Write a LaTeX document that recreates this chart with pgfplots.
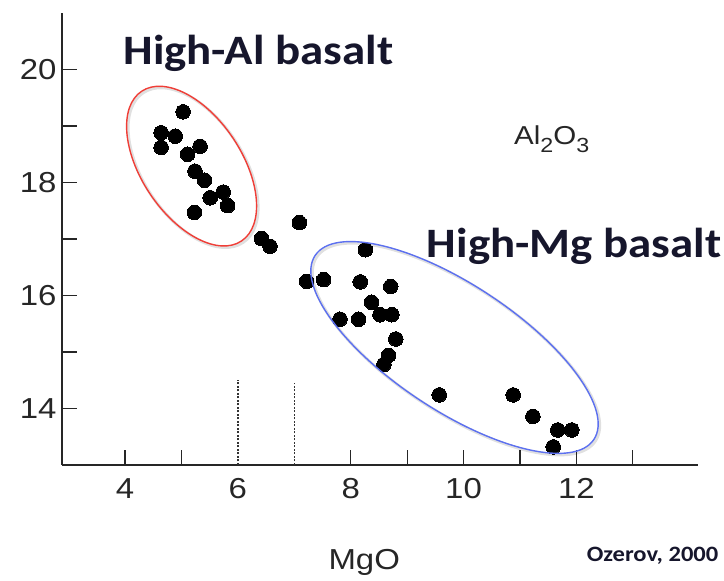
\documentclass[border=0pt]{standalone}
\usepackage{fontspec}
\setmainfont[FakeStretch=1.14]{Liberation Sans}
\newfontfamily\calibri[FakeStretch=1.12]{Carlito}
\usepackage{pgfplots}
\pgfplotsset{compat=1.18}
\definecolor{navy}{RGB}{22,22,44}
\definecolor{ellred}{RGB}{240,62,55}
\definecolor{ellblue}{RGB}{92,112,240}
\begin{document}
\begin{tikzpicture}[x=1bp,y=1bp]
\useasboundingbox (0,0) rectangle (724,581);
\begin{axis}[
  at={(62bp,116bp)}, anchor=south west,
  scale only axis, width=636.2bp, height=452bp,
  xmin=2.883, xmax=14.16, ymin=13, ymax=21,
  axis lines=left, axis line style={-, line width=1.6bp, black!85},
  tick align=inside,
  major tick length=15bp, minor tick length=15bp,
  tick style={line width=1.2bp, black!85},
  xtick={4,5,8,9,10,11,12,13}, xticklabels={4,,8,,10,,12,},
  extra x ticks={6}, extra x tick labels={6},
  extra x tick style={major tick length=0pt},
  ytick={14,15,16,17,18,19,20}, yticklabels={14,,16,,18,,20},
  ticklabel style={font=\fontsize{29}{29}\selectfont, text=black!85},
  xticklabel style={yshift=-10bp},
  yticklabel style={xshift=-2bp},
  clip=false,
]
\addplot[black!80, line width=1.4bp, dash pattern=on 2bp off 1.5bp] coordinates {(6,13) (6,14.51)};
\addplot[black!80, line width=1.4bp, dash pattern=on 2bp off 1.5bp] coordinates {(7,13) (7,14.45)};
\addplot[only marks, mark=*, mark size=7.3bp, mark options={fill=black, draw=black, line width=0pt}] table {
x y
5.03 19.25
4.64 18.88
4.89 18.82
4.64 18.62
5.33 18.64
5.11 18.50
5.24 18.20
5.41 18.04
5.74 17.83
5.51 17.73
5.82 17.59
5.23 17.47
6.42 17.01
6.57 16.87
7.09 17.29
8.26 16.81
7.22 16.25
7.52 16.28
8.17 16.24
8.71 16.16
8.37 15.88
8.52 15.66
8.73 15.66
7.81 15.58
8.14 15.58
8.80 15.23
8.67 14.94
8.59 14.78
9.57 14.24
10.88 14.24
11.23 13.86
11.67 13.62
11.92 13.62
11.59 13.32
};
\coordinate (redc) at (axis cs:5.18,18.29);
\coordinate (bluec) at (axis cs:9.84,15.08);
\end{axis}
\draw[black, opacity=0.12, line width=3bp] ([shift={(1.5,-1.5)}]redc) ellipse [x radius=90, y radius=50, rotate=-56.3];
\draw[black, opacity=0.12, line width=3bp] ([shift={(1.5,-1.5)}]bluec) ellipse [x radius=167, y radius=63, rotate=-33.4];
\draw[ellred, line width=1.4bp] (redc) ellipse [x radius=90, y radius=50, rotate=-56.3];
\draw[ellblue, line width=1.4bp] (bluec) ellipse [x radius=167, y radius=63, rotate=-33.4];
\node[anchor=base west, inner sep=0, font=\calibri\bfseries\fontsize{42}{42}\selectfont, text=navy] at (123.3,516.7) {High-Al basalt};
\node[anchor=base west, inner sep=0, font=\calibri\bfseries\fontsize{42}{42}\selectfont, text=navy] at (426.7,323.7) {High-Mg basalt};
\node[anchor=base west, inner sep=0, font=\fontsize{26}{26}\selectfont, text=black!85] at (514,436) {Al\raisebox{-0.28em}{\fontsize{20.5}{20.5}\selectfont 2}O\raisebox{-0.28em}{\fontsize{20.5}{20.5}\selectfont 3}};
\node[anchor=base west, inner sep=0, font=\fontsize{29}{29}\selectfont, text=black!85] at (328.3,11) {MgO};
\node[anchor=base west, inner sep=0, font=\calibri\bfseries\fontsize{22}{22}\selectfont, text=navy] at (586.7,19.3) {Ozerov, 2000};
\end{tikzpicture}
\end{document}
